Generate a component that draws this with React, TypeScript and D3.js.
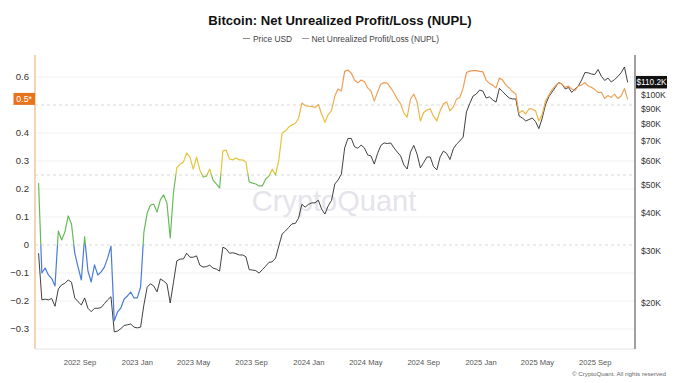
import React from "react";
import * as d3 from "d3";

// Weekly samples starting 2022-06-05
const startDate = new Date(2022, 5, 5);

const nupl: number[] = [
  0.221, -0.1, -0.082, -0.107, -0.12, -0.146, 0.05, 0.018, 0.046, 0.104,
  0.075, -0.029, -0.079, -0.125, 0.029, -0.093, -0.132, -0.071, -0.107, -0.096,
  -0.079, -0.046, -0.004, -0.271, -0.239, -0.225, -0.193, -0.182, -0.168, -0.189,
  -0.189, -0.15, 0.046, 0.114, 0.143, 0.146, 0.118, 0.161, 0.179, 0.15,
  0.025, 0.189, 0.275, 0.289, 0.296, 0.329, 0.314, 0.271, 0.314, 0.268,
  0.243, 0.246, 0.271, 0.232, 0.218, 0.204, 0.336, 0.339, 0.307, 0.304,
  0.311, 0.304, 0.304, 0.296, 0.225, 0.221, 0.218, 0.211, 0.211, 0.236,
  0.246, 0.271, 0.25, 0.304, 0.4, 0.407, 0.421, 0.429, 0.434, 0.452,
  0.507, 0.498, 0.496, 0.495, 0.491, 0.502, 0.468, 0.438, 0.466, 0.48,
  0.532, 0.557, 0.55, 0.62, 0.625, 0.614, 0.589, 0.579, 0.589, 0.584,
  0.561, 0.55, 0.514, 0.546, 0.575, 0.58, 0.577, 0.561, 0.543, 0.521,
  0.504, 0.471, 0.457, 0.521, 0.539, 0.511, 0.443, 0.473, 0.482, 0.486,
  0.459, 0.443, 0.479, 0.504, 0.511, 0.479, 0.493, 0.521, 0.527, 0.561,
  0.616, 0.621, 0.623, 0.623, 0.62, 0.618, 0.589, 0.577, 0.571, 0.561,
  0.596, 0.589, 0.571, 0.561, 0.548, 0.539, 0.471, 0.48, 0.468, 0.486,
  0.486, 0.479, 0.443, 0.466, 0.514, 0.534, 0.554, 0.568, 0.58, 0.575,
  0.563, 0.568, 0.557, 0.552, 0.568, 0.571, 0.58, 0.568, 0.563, 0.555,
  0.545, 0.545, 0.523, 0.534, 0.527, 0.539, 0.523, 0.532, 0.559, 0.52,
];

// Price in thousands of USD
const price: number[] = [
  29.4, 20.5, 20.6, 20.5, 20.7, 19.5, 22.3, 23.0, 23.3, 23.9,
  23.5, 20.8, 20.2, 19.7, 20.8, 19.2, 18.7, 19.2, 19.2, 19.3,
  19.9, 20.5, 21.0, 16.0, 16.1, 16.4, 16.8, 16.9, 17.0, 16.6,
  16.5, 16.6, 19.7, 22.6, 23.2, 22.8, 21.8, 24.1, 23.7, 23.2,
  20.0, 23.5, 27.7, 28.1, 28.1, 29.4, 28.5, 28.5, 28.8, 26.8,
  26.4, 26.5, 26.8, 26.2, 26.0, 25.6, 30.8, 30.4, 29.4, 29.5,
  29.3, 29.0, 29.0, 28.6, 25.9, 25.8, 25.7, 25.2, 25.9, 26.6,
  27.4, 27.5, 28.3, 31.1, 34.1, 34.9, 35.9, 36.9, 37.0, 38.6,
  42.9, 42.0, 42.9, 43.4, 43.4, 44.3, 41.4, 39.8, 42.4, 44.2,
  50.2, 51.8, 54.2, 66.4, 71.4, 71.5, 67.0, 66.2, 67.9, 66.4,
  62.9, 62.4, 58.6, 63.6, 67.7, 69.0, 68.7, 69.0, 66.4, 64.3,
  62.4, 58.2, 56.4, 64.3, 67.7, 63.3, 56.9, 59.3, 61.9, 61.9,
  57.5, 56.0, 61.9, 64.8, 63.6, 60.7, 65.9, 68.4, 70.1, 72.2,
  87.7, 93.6, 99.2, 100.8, 103.9, 103.1, 97.7, 98.5, 96.2, 94.7,
  105.3, 102.7, 100.0, 97.7, 97.0, 97.0, 85.0, 83.7, 81.8, 82.7,
  83.7, 81.4, 77.1, 83.4, 92.6, 98.5, 102.3, 106.0, 110.2, 108.9,
  104.8, 106.0, 102.0, 104.8, 107.2, 112.3, 119.0, 118.7, 117.6, 117.2,
  121.8, 115.6, 111.9, 114.0, 110.6, 112.7, 115.4, 118.8, 124.2, 110.2,
];

// 0.5 is covered by the current-value marker "0.5*"
const leftTicks = [-0.3, -0.2, -0.1, 0, 0.1, 0.2, 0.3, 0.4, 0.6];
const gridTicks = [-0.3, -0.2, -0.1, 0.1, 0.2, 0.3, 0.4, 0.6];
const rightTicks = [20, 30, 40, 50, 60, 70, 80, 90, 100];
const thresholdLines = [0, 0.25, 0.5];
const xTicks = [
  "2022-09-01", "2023-01-01", "2023-05-01", "2023-09-01", "2024-01-01",
  "2024-05-01", "2024-09-01", "2025-01-01", "2025-05-01", "2025-09-01",
];
const colorStops = [
  { v: -0.4, c: "#4a7bdc" },
  { v: -0.004, c: "#4a7bdc" },
  { v: 0.004, c: "#63b95a" },
  { v: 0.238, c: "#6cbc58" },
  { v: 0.262, c: "#e3c63d" },
  { v: 0.44, c: "#e6c23c" },
  { v: 0.52, c: "#eda85c" },
  { v: 0.63, c: "#ee9152" },
  { v: 0.7, c: "#ee8e50" },
];

const FONT = "'Liberation Sans', Arial, Helvetica, sans-serif";

export default function App() {
  const W = 680;
  const H = 383;
  const left = 35;
  const right = 635;
  const top = 55;
  const bottom = 349;

  const parse = (s: string) => {
    const [y, m, d] = s.split("-").map(Number);
    return new Date(y, m - 1, d);
  };
  const dates = nupl.map((_, i) => d3.timeDay.offset(startDate, 7 * i));
  const x = d3
    .scaleTime()
    .domain([new Date(2022, 4, 28, 10), new Date(2025, 10, 24, 12)])
    .range([left, right]);
  const yL = d3.scaleLinear().domain([-0.3, 0.6]).range([329, 77]);
  const yR = d3.scaleLog().domain([20, 100]).range([303, 95]);
  const fmt = d3.timeFormat("%Y %b");

  const nuplPath = d3
    .line<number>()
    .x((_, i) => x(dates[i]))
    .y((d) => yL(d))(nupl) as string;
  const pricePath = d3
    .line<number>()
    .x((_, i) => x(dates[i]))
    .y((d) => yR(d))(price) as string;

  const gLo = -0.4;
  const gHi = 0.7;
  const lastN = nupl[nupl.length - 1];
  const lastP = price[price.length - 1];

  return (
    <svg
      width={W}
      height={H}
      style={{ position: "absolute", left: 0, top: 0, background: "#fff", display: "block" }}
      fontFamily={FONT}
    >
      <defs>
        <linearGradient
          id="nuplGrad"
          gradientUnits="userSpaceOnUse"
          x1={0}
          x2={0}
          y1={yL(gLo)}
          y2={yL(gHi)}
        >
          {colorStops.map((s, i) => (
            <stop key={i} offset={(s.v - gLo) / (gHi - gLo)} stopColor={s.c} />
          ))}
        </linearGradient>
      </defs>
      <rect x={0} y={0} width={W} height={H} fill="#fff" />

      {/* Title & legend */}
      <text x={340} y={25} textAnchor="middle" fontSize={13.1} fontWeight="bold" fill="#111">
        Bitcoin: Net Unrealized Profit/Loss (NUPL)
      </text>
      <line x1={243} x2={250} y1={38.5} y2={38.5} stroke="#8a8a8a" strokeWidth={1} />
      <text x={253} y={41.5} fontSize={8.4} fill="#444">Price USD</text>
      <line x1={302} x2={309} y1={38.5} y2={38.5} stroke="#9a9a9a" strokeWidth={1} />
      <text x={311.5} y={41.5} fontSize={8.4} fill="#444">Net Unrealized Profit/Loss (NUPL)</text>

      {/* Gridlines */}
      {gridTicks.map((t) => (
        <line key={"g" + t} x1={left} x2={right} y1={yL(t)} y2={yL(t)} stroke="#f1f1f3" strokeWidth={1} />
      ))}
      {thresholdLines.map((t) => (
        <line
          key={"th" + t}
          x1={left}
          x2={right}
          y1={yL(t)}
          y2={yL(t)}
          stroke="#cfcfcf"
          strokeWidth={0.8}
          strokeDasharray="3,3"
        />
      ))}

      {/* Watermark */}
      <text x={334} y={211} textAnchor="middle" fontSize={29} fill="#e4e4ea">
        CryptoQuant
      </text>

      {/* Series */}
      <path d={pricePath} fill="none" stroke="#2b2b2b" strokeWidth={0.9} strokeLinejoin="round" />
      <path d={nuplPath} fill="none" stroke="url(#nuplGrad)" strokeWidth={1.2} strokeLinejoin="round" />

      {/* Axes lines */}
      <line x1={left} x2={right} y1={bottom} y2={bottom} stroke="#e2e2e2" strokeWidth={1} />
      <line x1={left} x2={left} y1={top} y2={bottom} stroke="#f2c59c" strokeWidth={1.5} />
      <line x1={right} x2={right} y1={top} y2={bottom} stroke="#808080" strokeWidth={1.5} />

      {/* Left ticks */}
      {leftTicks.map((t) => (
        <text key={"l" + t} x={29} y={yL(t)} dy="0.35em" textAnchor="end" fontSize={9.5} fill="#333">
          {d3.format("")(+t.toFixed(1))}
        </text>
      ))}
      <rect x={13.5} y={yL(lastN) - 6.5} width={21.5} height={12} fill="#e8731d" />
      <text x={24.2} y={yL(lastN)} dy="0.35em" textAnchor="middle" fontSize={8.8} fill="#fff">
        0.5*
      </text>

      {/* Right ticks */}
      {rightTicks.map((t) => (
        <text key={"r" + t} x={641} y={yR(t)} dy="0.35em" fontSize={8.6} fill="#333">
          {"$" + t + "K"}
        </text>
      ))}
      <rect x={636} y={yR(lastP) - 6.5} width={31} height={12.5} fill="#111" />
      <text x={651.5} y={yR(lastP)} dy="0.36em" textAnchor="middle" fontSize={8.2} fill="#fff">
        {"$" + lastP.toFixed(1) + "K"}
      </text>

      {/* X ticks */}
      {xTicks.map((s) => (
        <text key={s} x={x(parse(s))} y={365} textAnchor="middle" fontSize={7.6} fill="#555">
          {fmt(parse(s))}
        </text>
      ))}

      <text x={666} y={376} textAnchor="end" fontSize={6.2} fill="#666">
        © CryptoQuant. All rights reserved
      </text>
    </svg>
  );
}
